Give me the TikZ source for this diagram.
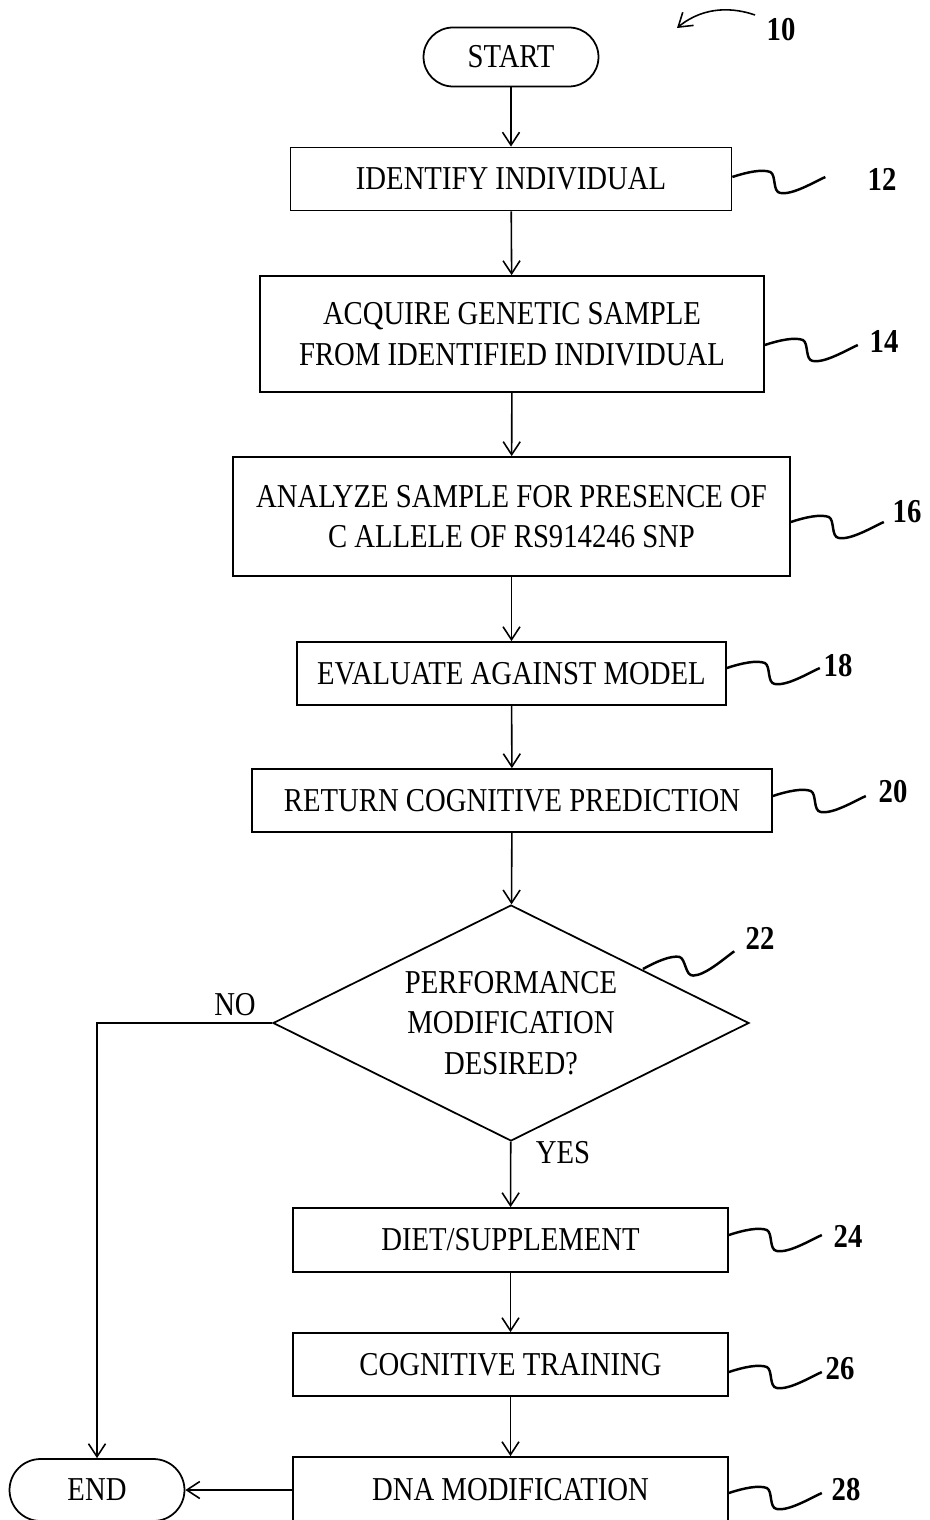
\documentclass[tikz,border=0pt]{standalone}
\usepackage{fontspec}
\setmainfont{Liberation Serif}[FakeStretch=0.86]
\usetikzlibrary{arrows.meta,shapes.geometric}

\tikzset{
  box/.style={draw, line width=1pt, minimum height=1.26cm, align=center, inner sep=0pt},
  term/.style={draw, line width=1pt, rounded corners=0.59cm, minimum width=3.5cm, minimum height=1.18cm},
  dec/.style={draw, line width=1pt, shape=diamond, aspect=2, inner sep=0pt, minimum width=9.52cm, minimum height=4.72cm, align=center},
  arr/.style={line width=0.9pt, -{Straight Barb[length=2.6mm,width=3.4mm,line width=0.9pt]}},
  lab/.style={font=\fontsize{19}{23}\selectfont\bfseries},
  squig/.pic={\draw[line width=1.4pt] (0,0) .. controls (15,-5) and (30,-8) .. (38,-5) .. controls (44,-2) and (40,15) .. (48,16) .. controls (60,18) and (80,6) .. (93,0);}
}

\begin{document}
\begin{tikzpicture}[x=0.02cm, y=-0.02cm, font=\fontsize{19}{23}\selectfont]
  \useasboundingbox (0,0) rectangle (929,1520);

  % main column
  \node[term] (start) at (511,57) {START};
  \node[box, minimum width=8.82cm] (ident) at (511,179) {IDENTIFY INDIVIDUAL};
  \node[box, minimum width=10.08cm, minimum height=2.32cm] (acq) at (512,334) {ACQUIRE GENETIC SAMPLE\\FROM IDENTIFIED INDIVIDUAL};
  \node[box, minimum width=11.14cm, minimum height=2.38cm] (anal) at (511.5,516.5) {ANALYZE SAMPLE FOR PRESENCE OF\\C ALLELE OF RS914246 SNP};
  \node[box, minimum width=8.58cm] (eval) at (511.5,673.5) {EVALUATE AGAINST MODEL};
  \node[box, minimum width=10.4cm] (ret) at (512,800.5) {RETURN COGNITIVE PREDICTION};
  \node[dec] (perf) at (511,1023) {PERFORMANCE\\MODIFICATION\\DESIRED?};
  \node[box, minimum width=8.7cm, minimum height=1.28cm] (diet) at (510.5,1240) {DIET/SUPPLEMENT};
  \node[box, minimum width=8.7cm] (train) at (510.5,1364.5) {COGNITIVE TRAINING};
  \node[box, minimum width=8.7cm, minimum height=1.32cm] (dna) at (510.5,1490) {DNA MODIFICATION};
  \node[term, minimum height=1.24cm, rounded corners=0.62cm] (stop) at (97,1490) {END};

  \draw[arr] (start) -- (ident);
  \draw[arr] (ident) -- (acq);
  \draw[arr] (acq) -- (anal);
  \draw[arr] (anal) -- (eval);
  \draw[arr] (eval) -- (ret);
  \draw[arr] (ret) -- (perf);
  \draw[arr] (perf) -- (diet);
  \draw[arr] (diet) -- (train);
  \draw[arr] (train) -- (dna);
  \draw[arr] (dna) -- (stop);
  \draw[arr] (perf.west) -| (stop.north);

  \node (no) at (235,1005) {NO};
  \node (yes) at (563,1153) {YES};

  % reference numerals
  \node[lab] (n10) at (781,30) {10};
  \coordinate (c10) at (755,15);
  \draw[arr] (c10) .. controls (735,8) and (705,5) .. (677,28);

  \node[lab] (n12) at (882,179) {12};
  \node[lab] (n14) at (884,341) {14};
  \node[lab] (n16) at (907,512) {16};
  \node[lab] (n18) at (838,666) {18};
  \node[lab] (n20) at (893,792) {20};
  \node[lab] (n22) at (760,938) {22};
  \node[lab] (n24) at (848,1236) {24};
  \node[lab] (n26) at (840,1369) {26};
  \node[lab] (n28) at (846,1490) {28};

  \pic at ([yshift=0.04cm]ident.east) {squig};
  \pic at ([yshift=-0.22cm]acq.east) {squig};
  \pic at ([yshift=-0.11cm]anal.east) {squig};
  \pic at ([yshift=0.11cm]eval.east) {squig};
  \pic at ([yshift=0.09cm]ret.east) {squig};
  \pic[rotate=11] at (643,969) {squig};
  \pic at ([yshift=0.1cm]diet.east) {squig};
  \pic at ([yshift=-0.15cm]train.east) {squig};
  \pic at ([yshift=-0.06cm]dna.east) {squig};
\end{tikzpicture}
\end{document}
